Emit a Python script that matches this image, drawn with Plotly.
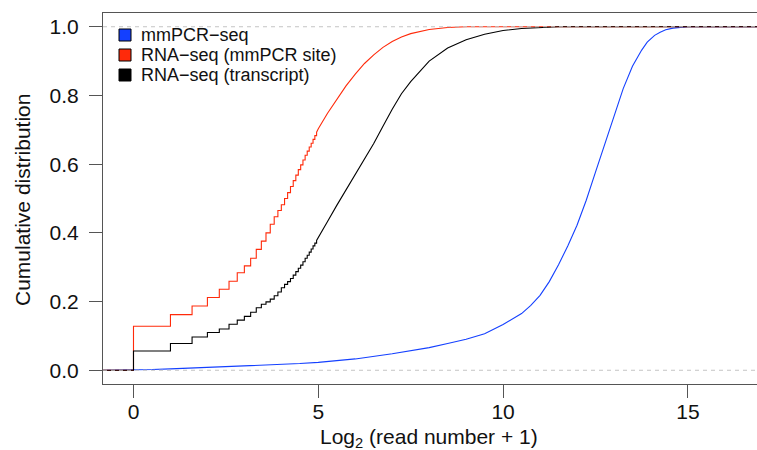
import numpy as np
import plotly.graph_objects as go

# ---------------- data ----------------
# Discrete part: read counts n -> cumulative fraction at log2(n+1)
red_counts = list(range(0, 31))
red_step_cdf = [0.128, 0.162, 0.187, 0.212, 0.236, 0.259, 0.284, 0.304, 0.326, 0.352,
                0.376, 0.400, 0.425, 0.447, 0.465, 0.482, 0.500, 0.517, 0.535, 0.552,
                0.568, 0.584, 0.598, 0.612, 0.626, 0.638, 0.650, 0.661, 0.672, 0.683,
                0.693]
# Dense part: log2 value -> cumulative fraction
red_cont_x = [5.0, 5.25, 5.5, 5.75, 6.0, 6.25, 6.5, 6.75, 7.0, 7.25, 7.5, 7.75, 8.0, 8.5, 9.0]
red_cont_y = [0.703, 0.748, 0.790, 0.828, 0.862, 0.893, 0.918, 0.940, 0.957, 0.970,
              0.980, 0.987, 0.992, 0.998, 1.0]

black_counts = list(range(0, 31))
black_step_cdf = [0.056, 0.078, 0.097, 0.110, 0.120, 0.134, 0.146, 0.157, 0.169, 0.182,
                  0.192, 0.199, 0.207, 0.217, 0.228, 0.240, 0.250, 0.258, 0.267, 0.277,
                  0.287, 0.297, 0.306, 0.316, 0.326, 0.335, 0.344, 0.353, 0.362, 0.370,
                  0.378]
black_cont_x = [5.0, 5.25, 5.5, 5.75, 6.0, 6.25, 6.5, 6.75, 7.0, 7.25, 7.5, 7.75, 8.0,
                8.5, 9.0, 9.5, 10.0, 10.5, 11.0, 11.5]
black_cont_y = [0.386, 0.433, 0.480, 0.525, 0.570, 0.615, 0.660, 0.710, 0.760, 0.805,
                0.840, 0.870, 0.900, 0.938, 0.962, 0.978, 0.989, 0.995, 0.998, 1.0]

blue_x = [0.0, 0.5, 1.0, 2.0, 3.0, 4.0, 4.5, 5.0, 6.0, 7.0, 8.0, 8.5, 9.0, 9.5, 10.0, 10.5,
          10.75, 11.0, 11.25, 11.5, 11.75, 12.0, 12.25, 12.5, 12.75, 13.0, 13.25, 13.5, 13.75,
          13.9, 14.1, 14.25, 14.4, 14.6, 14.8, 15.0]
blue_y = [0.0, 0.002, 0.004, 0.008, 0.012, 0.016, 0.0195, 0.023, 0.033, 0.048, 0.066, 0.078,
          0.090, 0.106, 0.133, 0.165, 0.189, 0.218, 0.258, 0.307, 0.362, 0.422, 0.495, 0.577,
          0.660, 0.740, 0.820, 0.885, 0.932, 0.955, 0.975, 0.984, 0.991, 0.996, 0.999, 1.0]

series_names = ["mmPCR\u2212seq", "RNA\u2212seq (mmPCR site)", "RNA\u2212seq (transcript)"]
series_colors = ["#1440ff", "#ff2a0a", "#000000"]

x_ticks = [0, 5, 10, 15]
y_ticks = [0.0, 0.2, 0.4, 0.6, 0.8, 1.0]
x_title = "Log<sub>2</sub> (read number + 1)"
y_title = "Cumulative distribution"

# ---------------- layout geometry ----------------
W, H = 757, 450
ML, MR, MT, MB = 103, 0, 13, 66
x_range = [-0.825, 16.87]
y_range = [-0.04, 1.04]
PW, PH = W - ML - MR, H - MT - MB


def pxx(px):
    return (px - ML) / PW


def pxy(py):
    return (H - MB - py) / PH


def ecdf_path(counts, step_vals, cont_x, cont_y):
    xs, ys = [x_range[0]], [0.0]
    prev = 0.0
    for c, v in zip(counts, step_vals):
        xv = float(np.log2(c + 1))
        xs += [xv, xv]
        ys += [prev, v]
        prev = v
    xs += list(cont_x)
    ys += list(cont_y)
    xs.append(x_range[1])
    ys.append(1.0)
    return xs, ys


FONT = "Arial, 'Liberation Sans', sans-serif"
fig = go.Figure()

bx, by = ecdf_path([], [], blue_x, blue_y)
rx, ry = ecdf_path(red_counts, red_step_cdf, red_cont_x, red_cont_y)
kx, ky = ecdf_path(black_counts, black_step_cdf, black_cont_x, black_cont_y)

for (xs, ys), name, col in zip([(bx, by), (rx, ry), (kx, ky)], series_names, series_colors):
    fig.add_trace(go.Scatter(x=xs, y=ys, mode="lines", name=name, showlegend=False,
                             line=dict(color=col, width=1.1), hoverinfo="skip"))

shapes = []
# dashed reference lines at 0 and 1 (drawn on top of the curves)
for yv in (0.0, 1.0):
    shapes.append(dict(type="line", xref="paper", yref="y", x0=0, x1=1, y0=yv, y1=yv,
                       layer="above", line=dict(color="#c4c4c4", width=1, dash="4px,4px")))

annotations = []
# manual legend
legend_rows = [35, 55, 75]
for row_y, name, col in zip(legend_rows, series_names, series_colors):
    shapes.append(dict(type="rect", xref="paper", yref="paper",
                       x0=pxx(119), x1=pxx(131), y0=pxy(row_y + 6), y1=pxy(row_y - 6),
                       fillcolor=col, line=dict(color="#000000", width=1), layer="above"))
    annotations.append(dict(text=name, xref="paper", yref="paper", x=pxx(139), y=pxy(row_y),
                            xanchor="left", yanchor="middle", showarrow=False,
                            font=dict(family=FONT, size=18, color="#111111")))

# axis titles
annotations.append(dict(text=x_title, xref="paper", yref="paper", x=pxx(429), y=pxy(438),
                        xanchor="center", yanchor="middle", showarrow=False,
                        font=dict(family=FONT, size=21, color="#111111")))
annotations.append(dict(text=y_title, xref="paper", yref="paper", x=pxx(22), y=pxy(200),
                        xanchor="center", yanchor="middle", showarrow=False, textangle=-90,
                        font=dict(family=FONT, size=21, color="#111111")))

fig.update_layout(
    width=W, height=H,
    margin=dict(l=ML, r=MR, t=MT, b=MB, pad=0),
    paper_bgcolor="white", plot_bgcolor="white",
    shapes=shapes, annotations=annotations,
    font=dict(family=FONT, size=21, color="#111111"),
    xaxis=dict(range=x_range, tickvals=x_ticks, ticktext=[str(t) for t in x_ticks],
               showgrid=False, zeroline=False, showline=True, linecolor="#555555",
               linewidth=1, mirror=True, ticks="outside", ticklen=13, tickwidth=1,
               tickcolor="#555555", ticklabelstandoff=-4,
               tickfont=dict(family=FONT, size=21, color="#111111")),
    yaxis=dict(range=y_range, tickvals=y_ticks, ticktext=[f"{t:.1f}" for t in y_ticks],
               showgrid=False, zeroline=False, showline=True, linecolor="#555555",
               linewidth=1, mirror=False, ticks="outside", ticklen=13, tickwidth=1,
               tickcolor="#555555", ticklabelstandoff=6,
               tickfont=dict(family=FONT, size=21, color="#111111")),
)

fig.write_html("out.html")
